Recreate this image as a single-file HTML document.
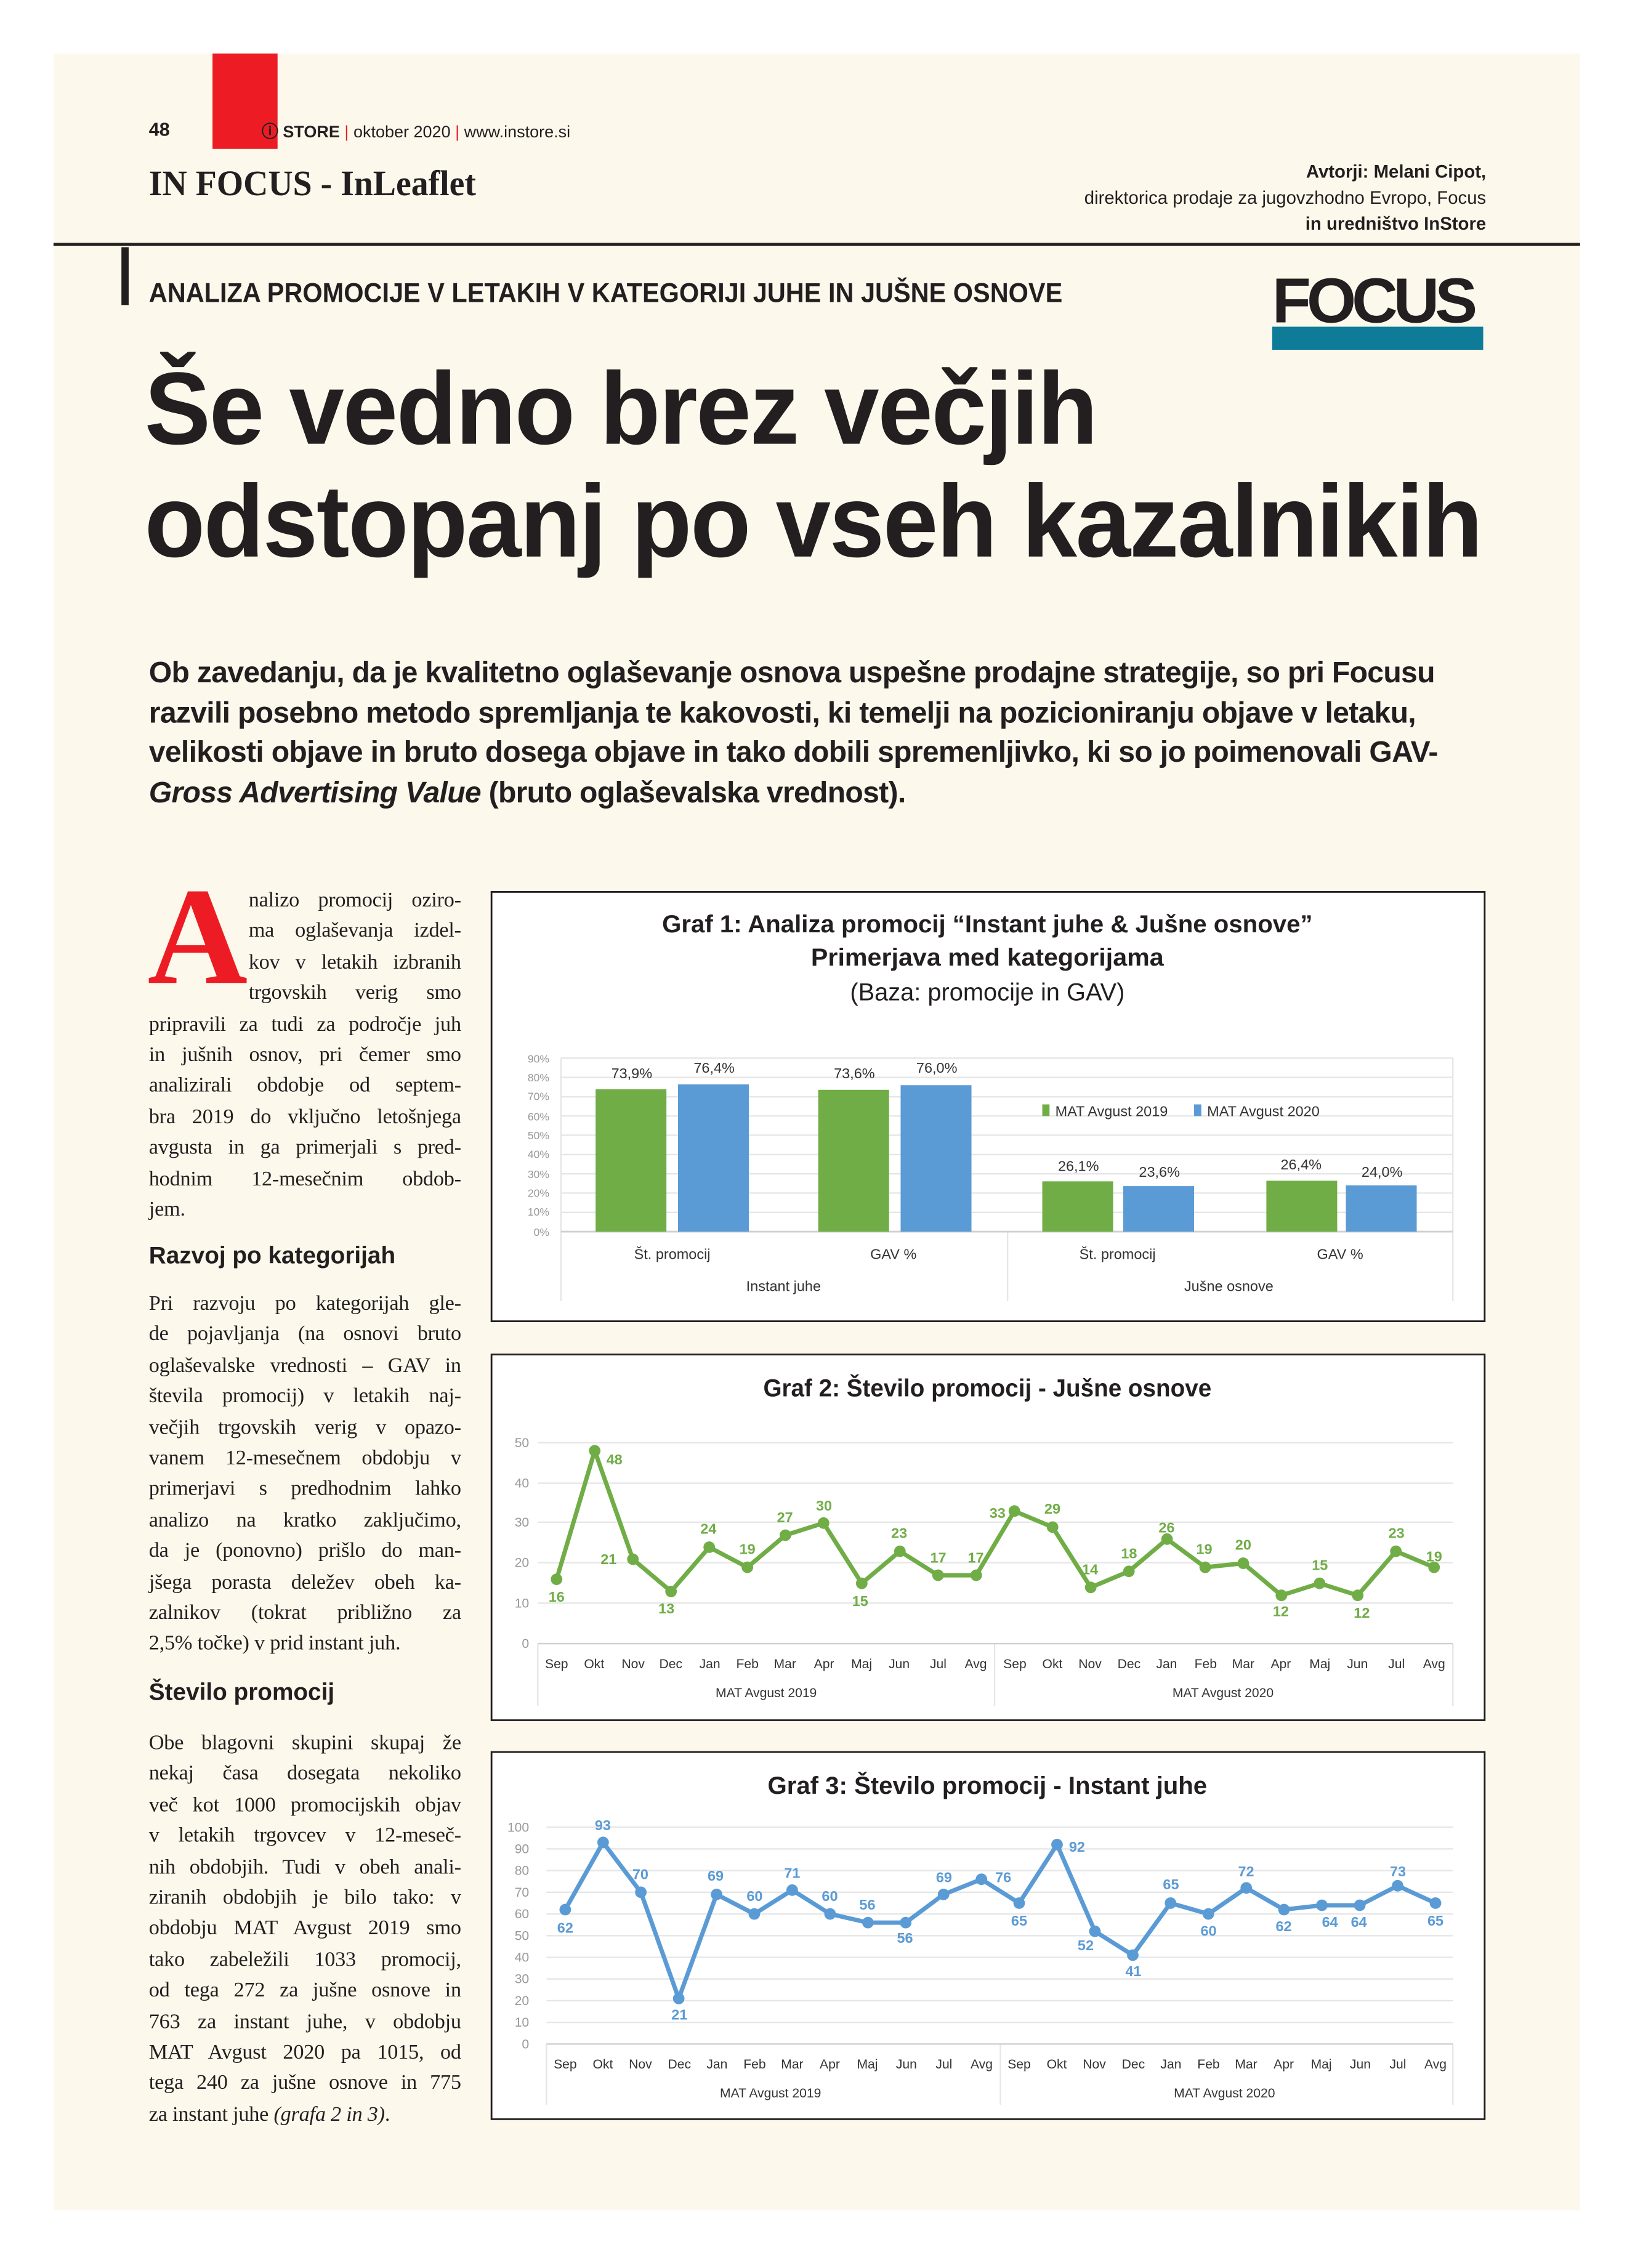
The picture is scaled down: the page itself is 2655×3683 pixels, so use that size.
<!DOCTYPE html>
<html><head><meta charset="utf-8"><style>
html,body{margin:0;padding:0;background:#fff;}
#wrap{width:1131px;height:1569px;transform:scale(2.34748);transform-origin:0 0;position:relative;overflow:hidden;font-family:"Liberation Sans",sans-serif;color:#231f20;}
.cream{position:absolute;left:37px;top:37px;width:1056px;height:1492px;background:#fdf8ec;}
.a{position:absolute;white-space:nowrap;}
.col{position:absolute;left:103px;width:216px;font-family:"Liberation Serif",serif;font-size:14.6px;letter-spacing:-0.1px;line-height:21.4px;}
.col div{text-align:justify;text-align-last:justify;white-space:nowrap;height:21.4px;}
.col div.l{text-align-last:left;}
.h{position:absolute;left:103px;font-family:"Liberation Sans",sans-serif;font-weight:bold;font-size:16.5px;}
</style></head><body><div id="wrap">
<div class="cream"></div>
<div class="a" style="left:147px;top:37px;width:45px;height:66px;background:#ed1c24"></div>
<div class="a" style="left:103px;top:82px;font-weight:bold;font-size:13px">48</div>
<div class="a" style="left:181px;top:83px;font-size:11.5px"><b>ⓘ STORE</b> <span style="color:#ed1c24">|</span> oktober 2020 <span style="color:#ed1c24">|</span> www.instore.si</div>
<div class="a" style="left:103px;top:114px;font-family:'Liberation Serif',serif;font-weight:bold;font-size:25px;transform:scaleX(.95);transform-origin:0 0">IN FOCUS - InLeaflet</div>
<div class="a" style="right:103px;top:110px;text-align:right;font-size:12.5px;line-height:18px"><b>Avtorji: Melani Cipot,</b><br>direktorica prodaje za jugovzhodno Evropo, Focus<br><b>in uredništvo InStore</b></div>
<div class="a" style="left:37px;top:168px;width:1056px;height:2px;background:#231f20"></div>
<div class="a" style="left:84px;top:171px;width:5px;height:40px;background:#231f20"></div>
<div class="a" style="left:103px;top:193px;font-weight:bold;font-size:19px;transform:scaleX(.93);transform-origin:0 0">ANALIZA PROMOCIJE V LETAKIH V KATEGORIJI JUHE IN JUŠNE OSNOVE</div>
<div class="a" style="left:880px;top:178px;width:146px;height:66px;">
 <div style="position:absolute;left:0;top:48px;width:146px;height:16px;background:#0e7c99"></div>
 <div style="position:absolute;left:0;top:6px;font-weight:bold;font-size:44px;letter-spacing:-3px;color:#231f20">FOCUS</div>
</div>
<div class="a" style="left:100px;top:245px;font-weight:bold;font-size:71px;line-height:78px;letter-spacing:-1px;transform:scaleX(.965);transform-origin:0 0">Še vedno brez večjih<br>odstopanj po vseh kazalnikih</div>
<div class="a" style="left:103px;top:452px;font-weight:bold;font-size:20.5px;line-height:27.5px;letter-spacing:-0.3px;white-space:normal;width:930px">Ob zavedanju, da je kvalitetno oglaševanje osnova uspešne prodajne strategije, so pri Focusu razvili posebno metodo spremljanja te kakovosti, ki temelji na pozicioniranju objave v letaku, velikosti objave in bruto dosega objave in tako dobili spremenljivko, ki so jo poimenovali GAV-<i>Gross Advertising Value</i> (bruto oglaševalska vrednost).</div>

<div class="a" style="left:102px;top:598px;font-family:'Liberation Serif',serif;font-weight:bold;color:#ed1c24;font-size:96px;line-height:100px">A</div>
<div class="col" style="top:613px">
<div style="margin-left:69px">nalizo promocij oziro-</div>
<div style="margin-left:69px">ma oglaševanja izdel-</div>
<div style="margin-left:69px">kov v letakih izbranih</div>
<div style="margin-left:69px">trgovskih verig smo</div>
<div>pripravili za tudi za področje juh</div>
<div>in jušnih osnov, pri čemer smo</div>
<div>analizirali obdobje od septem-</div>
<div>bra 2019 do vključno letošnjega</div>
<div>avgusta in ga primerjali s pred-</div>
<div>hodnim 12-mesečnim obdob-</div>
<div class="l">jem.</div>
</div>
<div class="h" style="top:860px">Razvoj po kategorijah</div>
<div class="col" style="top:892px">
<div>Pri razvoju po kategorijah gle-</div>
<div>de pojavljanja (na osnovi bruto</div>
<div>oglaševalske vrednosti – GAV in</div>
<div>števila promocij) v letakih naj-</div>
<div>večjih trgovskih verig v opazo-</div>
<div>vanem 12-mesečnem obdobju v</div>
<div>primerjavi s predhodnim lahko</div>
<div>analizo na kratko zaključimo,</div>
<div>da je (ponovno) prišlo do man-</div>
<div>jšega porasta deležev obeh ka-</div>
<div>zalnikov (tokrat približno za</div>
<div class="l">2,5% točke) v prid instant juh.</div>
</div>
<div class="h" style="top:1162px">Število promocij</div>
<div class="col" style="top:1196px">
<div>Obe blagovni skupini skupaj že</div>
<div>nekaj časa dosegata nekoliko</div>
<div>več kot 1000 promocijskih objav</div>
<div>v letakih trgovcev v 12-meseč-</div>
<div>nih obdobjih. Tudi v obeh anali-</div>
<div>ziranih obdobjih je bilo tako: v</div>
<div>obdobju MAT Avgust 2019 smo</div>
<div>tako zabeležili 1033 promocij,</div>
<div>od tega 272 za jušne osnove in</div>
<div>763 za instant juhe, v obdobju</div>
<div>MAT Avgust 2020 pa 1015, od</div>
<div>tega 240 za jušne osnove in 775</div>
<div class="l">za instant juhe <i>(grafa 2 in 3)</i>.</div>
</div>

<svg class="a" style="left:0;top:0" width="1131" height="1569" font-family="Liberation Sans, sans-serif">
<!-- Graf 1 -->
<rect x="340" y="617" width="687" height="297" fill="#fff" stroke="#231f20" stroke-width="1.2"/>
<g text-anchor="middle" fill="#231f20">
<text x="683" y="645" font-size="17" font-weight="bold" textLength="450" lengthAdjust="spacingAndGlyphs">Graf 1: Analiza promocij “Instant juhe &amp; Jušne osnove”</text>
<text x="683" y="668" font-size="17" font-weight="bold" textLength="244" lengthAdjust="spacingAndGlyphs">Primerjava  med kategorijama</text>
<text x="683" y="692" font-size="17" textLength="190" lengthAdjust="spacingAndGlyphs">(Baza: promocije in GAV)</text>
</g>
<g stroke="#e6e6e6" stroke-width="1">
<line x1="388" x2="1005" y1="732" y2="732"/><line x1="388" x2="1005" y1="745.3" y2="745.3"/><line x1="388" x2="1005" y1="758.7" y2="758.7"/><line x1="388" x2="1005" y1="772" y2="772"/><line x1="388" x2="1005" y1="785.3" y2="785.3"/><line x1="388" x2="1005" y1="798.7" y2="798.7"/><line x1="388" x2="1005" y1="812" y2="812"/><line x1="388" x2="1005" y1="825.3" y2="825.3"/><line x1="388" x2="1005" y1="838.7" y2="838.7"/>
<line x1="388" x2="388" y1="732" y2="900"/><line x1="697" x2="697" y1="852" y2="900"/><line x1="1005" x2="1005" y1="732" y2="900"/>
</g>
<line x1="388" x2="1005" y1="852" y2="852" stroke="#d0d0d0" stroke-width="1.2"/>
<g font-size="7.5" fill="#999" text-anchor="end">
<text x="380" y="735">90%</text><text x="380" y="748">80%</text><text x="380" y="761">70%</text><text x="380" y="775">60%</text><text x="380" y="788">50%</text><text x="380" y="801">40%</text><text x="380" y="815">30%</text><text x="380" y="828">20%</text><text x="380" y="841">10%</text><text x="380" y="855">0%</text>
</g>
<g fill="#70ad47"><rect x="412" y="753.5" width="49" height="98.5"/><rect x="566" y="753.9" width="49" height="98.1"/><rect x="721" y="817.2" width="49" height="34.8"/><rect x="876" y="816.8" width="49" height="35.2"/></g>
<g fill="#5b9bd5"><rect x="469" y="750.1" width="49" height="101.9"/><rect x="623" y="750.7" width="49" height="101.3"/><rect x="777" y="820.5" width="49" height="31.5"/><rect x="931" y="820" width="49" height="32"/></g>
<g font-size="10" fill="#333" text-anchor="middle">
<text x="437" y="746">73,9%</text><text x="494" y="742">76,4%</text><text x="591" y="746">73,6%</text><text x="648" y="742">76,0%</text>
<text x="746" y="810">26,1%</text><text x="802" y="814">23,6%</text><text x="900" y="809">26,4%</text><text x="956" y="814">24,0%</text>
<text x="465" y="871">Št. promocij</text><text x="618" y="871">GAV %</text><text x="773" y="871">Št. promocij</text><text x="927" y="871">GAV %</text>
<text x="542" y="893">Instant juhe</text><text x="850" y="893">Jušne osnove</text>
</g>
<rect x="721" y="764" width="5" height="8" fill="#70ad47"/><text x="730" y="772" font-size="10" fill="#333">MAT Avgust 2019</text>
<rect x="826" y="764" width="5" height="8" fill="#5b9bd5"/><text x="835" y="772" font-size="10" fill="#333">MAT Avgust 2020</text>

<!-- Graf 2 -->
<rect x="340" y="937" width="687" height="253" fill="#fff" stroke="#231f20" stroke-width="1.2"/>
<text x="683" y="966" font-size="17" font-weight="bold" text-anchor="middle" fill="#231f20" textLength="310" lengthAdjust="spacingAndGlyphs">Graf 2: Število promocij - Jušne osnove</text>
<g stroke="#e6e6e6"><line x1="372" x2="1005" y1="998" y2="998"/><line x1="372" x2="1005" y1="1026" y2="1026"/><line x1="372" x2="1005" y1="1053" y2="1053"/><line x1="372" x2="1005" y1="1081" y2="1081"/><line x1="372" x2="1005" y1="1109" y2="1109"/>
<line x1="372" x2="372" y1="1137" y2="1180"/><line x1="688" x2="688" y1="1137" y2="1180"/><line x1="1005" x2="1005" y1="1137" y2="1180"/></g>
<line x1="372" x2="1005" y1="1137" y2="1137" stroke="#d0d0d0"/>
<g font-size="9" fill="#999" text-anchor="end"><text x="366" y="1001">50</text><text x="366" y="1029">40</text><text x="366" y="1056">30</text><text x="366" y="1084">20</text><text x="366" y="1112">10</text><text x="366" y="1140">0</text></g>
<polyline fill="none" stroke="#70ad47" stroke-width="3" stroke-linejoin="round" points="385,1092.5 411.4,1003.6 437.8,1078.6 464.2,1100.9 490.6,1070.3 517,1084.2 543.3,1062 569.7,1053.6 596.1,1095.3 622.5,1073.1 648.9,1089.7 675.3,1089.7 701.7,1045.3 728.1,1056.4 754.5,1098.1 780.9,1087 807.3,1064.7 833.7,1084.2 860,1081.4 886.4,1103.6 912.8,1095.3 939.2,1103.6 965.6,1073.1 992,1084.2"/>
<g fill="#70ad47"><circle cx="385" cy="1092.5" r="4"/><circle cx="411.4" cy="1003.6" r="4"/><circle cx="437.8" cy="1078.6" r="4"/><circle cx="464.2" cy="1100.9" r="4"/><circle cx="490.6" cy="1070.3" r="4"/><circle cx="517" cy="1084.2" r="4"/><circle cx="543.3" cy="1062" r="4"/><circle cx="569.7" cy="1053.6" r="4"/><circle cx="596.1" cy="1095.3" r="4"/><circle cx="622.5" cy="1073.1" r="4"/><circle cx="648.9" cy="1089.7" r="4"/><circle cx="675.3" cy="1089.7" r="4"/><circle cx="701.7" cy="1045.3" r="4"/><circle cx="728.1" cy="1056.4" r="4"/><circle cx="754.5" cy="1098.1" r="4"/><circle cx="780.9" cy="1087" r="4"/><circle cx="807.3" cy="1064.7" r="4"/><circle cx="833.7" cy="1084.2" r="4"/><circle cx="860" cy="1081.4" r="4"/><circle cx="886.4" cy="1103.6" r="4"/><circle cx="912.8" cy="1095.3" r="4"/><circle cx="939.2" cy="1103.6" r="4"/><circle cx="965.6" cy="1073.1" r="4"/><circle cx="992" cy="1084.2" r="4"/>
<g font-size="10" font-weight="bold" text-anchor="middle">
<text x="385" y="1108">16</text><text x="425" y="1013">48</text><text x="421" y="1082">21</text><text x="461" y="1116">13</text><text x="490" y="1061">24</text><text x="517" y="1075">19</text><text x="543" y="1053">27</text><text x="570" y="1045">30</text><text x="595" y="1111">15</text><text x="622" y="1064">23</text><text x="649" y="1081">17</text><text x="675" y="1081">17</text>
<text x="690" y="1050">33</text><text x="728" y="1047">29</text><text x="754" y="1089">14</text><text x="781" y="1078">18</text><text x="807" y="1060">26</text><text x="833" y="1075">19</text><text x="860" y="1072">20</text><text x="886" y="1118">12</text><text x="913" y="1086">15</text><text x="942" y="1119">12</text><text x="966" y="1064">23</text><text x="992" y="1080">19</text></g></g>
<g font-size="9" fill="#333" text-anchor="middle">
<text x="385" y="1154">Sep</text><text x="411" y="1154">Okt</text><text x="438" y="1154">Nov</text><text x="464" y="1154">Dec</text><text x="491" y="1154">Jan</text><text x="517" y="1154">Feb</text><text x="543" y="1154">Mar</text><text x="570" y="1154">Apr</text><text x="596" y="1154">Maj</text><text x="622" y="1154">Jun</text><text x="649" y="1154">Jul</text><text x="675" y="1154">Avg</text>
<text x="702" y="1154">Sep</text><text x="728" y="1154">Okt</text><text x="754" y="1154">Nov</text><text x="781" y="1154">Dec</text><text x="807" y="1154">Jan</text><text x="834" y="1154">Feb</text><text x="860" y="1154">Mar</text><text x="886" y="1154">Apr</text><text x="913" y="1154">Maj</text><text x="939" y="1154">Jun</text><text x="966" y="1154">Jul</text><text x="992" y="1154">Avg</text>
<text x="530" y="1174">MAT Avgust 2019</text><text x="846" y="1174">MAT Avgust 2020</text></g>

<!-- Graf 3 -->
<rect x="340" y="1212" width="687" height="254" fill="#fff" stroke="#231f20" stroke-width="1.2"/>
<text x="683" y="1241" font-size="17" font-weight="bold" text-anchor="middle" fill="#231f20" textLength="304" lengthAdjust="spacingAndGlyphs">Graf 3: Število promocij - Instant juhe</text>
<g stroke="#e6e6e6"><line x1="378" x2="1005" y1="1264" y2="1264"/><line x1="378" x2="1005" y1="1279" y2="1279"/><line x1="378" x2="1005" y1="1294" y2="1294"/><line x1="378" x2="1005" y1="1309" y2="1309"/><line x1="378" x2="1005" y1="1324" y2="1324"/><line x1="378" x2="1005" y1="1339" y2="1339"/><line x1="378" x2="1005" y1="1354" y2="1354"/><line x1="378" x2="1005" y1="1369" y2="1369"/><line x1="378" x2="1005" y1="1384" y2="1384"/><line x1="378" x2="1005" y1="1399" y2="1399"/>
<line x1="378" x2="378" y1="1414" y2="1456"/><line x1="692" x2="692" y1="1414" y2="1456"/><line x1="1005" x2="1005" y1="1414" y2="1456"/></g>
<line x1="378" x2="1005" y1="1414" y2="1414" stroke="#d0d0d0"/>
<g font-size="9" fill="#999" text-anchor="end"><text x="366" y="1267">100</text><text x="366" y="1282">90</text><text x="366" y="1297">80</text><text x="366" y="1312">70</text><text x="366" y="1327">60</text><text x="366" y="1342">50</text><text x="366" y="1357">40</text><text x="366" y="1372">30</text><text x="366" y="1387">20</text><text x="366" y="1402">10</text><text x="366" y="1417">0</text></g>
<polyline fill="none" stroke="#5b9bd5" stroke-width="3" stroke-linejoin="round" points="391,1321 417.2,1274.5 443.3,1309 469.5,1382.5 495.7,1310.5 521.8,1324 548,1307.5 574.2,1324 600.4,1330 626.5,1330 652.7,1310.5 678.9,1300 705,1316.5 731.2,1276 757.4,1336 783.6,1352.5 809.7,1316.5 835.9,1324 862.1,1306 888.2,1321 914.4,1318 940.6,1318 966.8,1304.5 993,1316.5"/>
<g fill="#5b9bd5"><circle cx="391" cy="1321" r="4"/><circle cx="417.2" cy="1274.5" r="4"/><circle cx="443.3" cy="1309" r="4"/><circle cx="469.5" cy="1382.5" r="4"/><circle cx="495.7" cy="1310.5" r="4"/><circle cx="521.8" cy="1324" r="4"/><circle cx="548" cy="1307.5" r="4"/><circle cx="574.2" cy="1324" r="4"/><circle cx="600.4" cy="1330" r="4"/><circle cx="626.5" cy="1330" r="4"/><circle cx="652.7" cy="1310.5" r="4"/><circle cx="678.9" cy="1300" r="4"/><circle cx="705" cy="1316.5" r="4"/><circle cx="731.2" cy="1276" r="4"/><circle cx="757.4" cy="1336" r="4"/><circle cx="783.6" cy="1352.5" r="4"/><circle cx="809.7" cy="1316.5" r="4"/><circle cx="835.9" cy="1324" r="4"/><circle cx="862.1" cy="1306" r="4"/><circle cx="888.2" cy="1321" r="4"/><circle cx="914.4" cy="1318" r="4"/><circle cx="940.6" cy="1318" r="4"/><circle cx="966.8" cy="1304.5" r="4"/><circle cx="993" cy="1316.5" r="4"/>
<g font-size="10" font-weight="bold" text-anchor="middle">
<text x="391" y="1337">62</text><text x="417" y="1266">93</text><text x="443" y="1300">70</text><text x="470" y="1397">21</text><text x="495" y="1301">69</text><text x="522" y="1315">60</text><text x="548" y="1299">71</text><text x="574" y="1315">60</text><text x="600" y="1321">56</text><text x="626" y="1344">56</text><text x="653" y="1302">69</text><text x="694" y="1302">76</text>
<text x="705" y="1332">65</text><text x="745" y="1281">92</text><text x="751" y="1349">52</text><text x="784" y="1367">41</text><text x="810" y="1307">65</text><text x="836" y="1339">60</text><text x="862" y="1298">72</text><text x="888" y="1336">62</text><text x="920" y="1333">64</text><text x="940" y="1333">64</text><text x="967" y="1298">73</text><text x="993" y="1332">65</text></g></g>
<g font-size="9" fill="#333" text-anchor="middle">
<text x="391" y="1431">Sep</text><text x="417" y="1431">Okt</text><text x="443" y="1431">Nov</text><text x="470" y="1431">Dec</text><text x="496" y="1431">Jan</text><text x="522" y="1431">Feb</text><text x="548" y="1431">Mar</text><text x="574" y="1431">Apr</text><text x="600" y="1431">Maj</text><text x="627" y="1431">Jun</text><text x="653" y="1431">Jul</text><text x="679" y="1431">Avg</text>
<text x="705" y="1431">Sep</text><text x="731" y="1431">Okt</text><text x="757" y="1431">Nov</text><text x="784" y="1431">Dec</text><text x="810" y="1431">Jan</text><text x="836" y="1431">Feb</text><text x="862" y="1431">Mar</text><text x="888" y="1431">Apr</text><text x="914" y="1431">Maj</text><text x="941" y="1431">Jun</text><text x="967" y="1431">Jul</text><text x="993" y="1431">Avg</text>
<text x="533" y="1451">MAT Avgust 2019</text><text x="847" y="1451">MAT Avgust 2020</text></g>
</svg>
</div></body></html>
